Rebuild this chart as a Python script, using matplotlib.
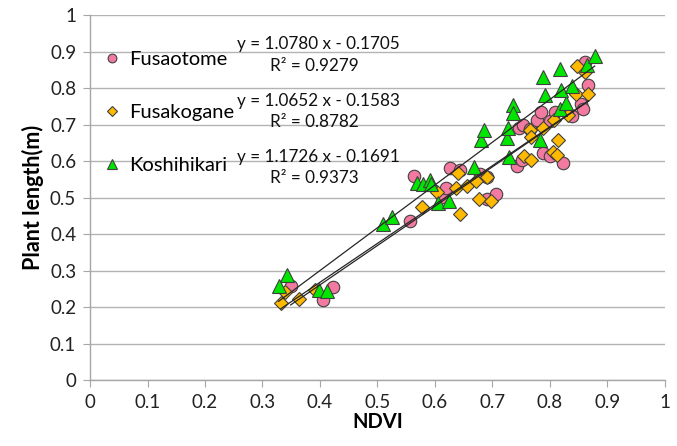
import matplotlib
matplotlib.use("Agg")
import matplotlib.pyplot as plt
import numpy as np

plt.rcParams['font.family'] = ['Lato', 'DejaVu Sans']

# ---- data ----
fusaotome_x = [0.349, 0.423, 0.405, 0.557, 0.563, 0.613, 0.619, 0.626, 0.643, 0.678,
               0.691, 0.691, 0.706, 0.742, 0.751, 0.747, 0.754, 0.765, 0.777, 0.785,
               0.788, 0.800, 0.822, 0.800, 0.809, 0.839, 0.855, 0.858, 0.867, 0.861]
fusaotome_y = [0.258, 0.256, 0.219, 0.437, 0.559, 0.502, 0.525, 0.580, 0.575, 0.564,
               0.557, 0.495, 0.511, 0.586, 0.603, 0.692, 0.699, 0.687, 0.712, 0.735,
               0.623, 0.614, 0.595, 0.710, 0.735, 0.723, 0.756, 0.742, 0.808, 0.872]

fusakogane_x = [0.339, 0.332, 0.364, 0.391, 0.577, 0.603, 0.637, 0.643, 0.641, 0.655,
                0.672, 0.676, 0.697, 0.691, 0.755, 0.768, 0.805, 0.812, 0.765, 0.768,
                0.788, 0.807, 0.815, 0.828, 0.832, 0.845, 0.867, 0.861, 0.848]
fusakogane_y = [0.242, 0.212, 0.221, 0.247, 0.473, 0.516, 0.527, 0.455, 0.568, 0.531,
                0.545, 0.495, 0.491, 0.557, 0.614, 0.604, 0.626, 0.616, 0.685, 0.667,
                0.692, 0.712, 0.659, 0.735, 0.726, 0.785, 0.784, 0.845, 0.861]

koshihikari_x = [0.342, 0.328, 0.399, 0.412, 0.510, 0.525, 0.569, 0.579, 0.591, 0.594,
                 0.606, 0.625, 0.668, 0.681, 0.685, 0.725, 0.727, 0.729, 0.736, 0.736,
                 0.783, 0.788, 0.791, 0.817, 0.828, 0.818, 0.820, 0.839, 0.864, 0.878]
koshihikari_y = [0.288, 0.258, 0.248, 0.245, 0.427, 0.447, 0.541, 0.536, 0.548, 0.537,
                 0.484, 0.491, 0.584, 0.659, 0.685, 0.662, 0.690, 0.612, 0.753, 0.732,
                 0.658, 0.831, 0.781, 0.742, 0.760, 0.853, 0.795, 0.805, 0.863, 0.888]

series_names = ['Fusaotome', 'Fusakogane', 'Koshihikari']
slopes = [1.0780, 1.0652, 1.1726]
intercepts = [-0.1705, -0.1583, -0.1691]
r2_values = [0.9279, 0.8782, 0.9373]

x_ticks = [0, 0.1, 0.2, 0.3, 0.4, 0.5, 0.6, 0.7, 0.8, 0.9, 1]
y_ticks = [0, 0.1, 0.2, 0.3, 0.4, 0.5, 0.6, 0.7, 0.8, 0.9, 1]

# ---- style ----
colors = ['#f27aa0', '#ffb900', '#00e600']
markers = ['o', 'D', '^']
msizes = [9, 6.8, 9.5]
eq_pos = [(0.397, 0.921, 0.39, 0.860), (0.397, 0.764, 0.39, 0.707), (0.397, 0.611, 0.39, 0.553)]

fig = plt.figure(figsize=(6.77, 4.46), dpi=100)
ax = fig.add_axes([0.133, 0.148, 0.849, 0.818])

xs = [fusaotome_x, fusakogane_x, koshihikari_x]
ys = [fusaotome_y, fusakogane_y, koshihikari_y]

for i in range(3):
    ax.plot(xs[i], ys[i], linestyle='none', marker=markers[i], ms=msizes[i],
            mfc=colors[i], mec='#404040', mew=0.8, label=series_names[i], zorder=3)

for i in range(3):
    xl = np.array([min(xs[i]), max(xs[i])])
    ax.plot(xl, slopes[i] * xl + intercepts[i], color='#262626', lw=0.9, zorder=4)

for i in range(3):
    ex, ey, rx, ry = eq_pos[i]
    sign = '-' if intercepts[i] < 0 else '+'
    ax.text(ex, ey, f'y = {slopes[i]:.4f} x {sign} {abs(intercepts[i]):.4f}',
            ha='center', va='center', fontsize=12.3, color='#111111', zorder=5)
    ax.text(rx, ry, f'R² = {r2_values[i]:.4f}', ha='center', va='center',
            fontsize=12.3, color='#111111', zorder=5)

ax.set_xlim(0, 1)
ax.set_ylim(0, 1)
ax.set_xticks(x_ticks)
ax.set_yticks(y_ticks)
ax.set_xticklabels([f'{v:g}' for v in x_ticks])
ax.set_yticklabels([f'{v:g}' for v in y_ticks])
ax.tick_params(axis='both', labelsize=13.5, colors='#222222', length=5, width=0.8,
               direction='out', pad=5)
ax.tick_params(axis='both', color='#a6a6a6')
ax.yaxis.grid(True, color='#b3b3b3', lw=1.0)
ax.set_axisbelow(True)
for s in ['top', 'right']:
    ax.spines[s].set_visible(False)
for s in ['left', 'bottom']:
    ax.spines[s].set_color('#a6a6a6')
    ax.spines[s].set_linewidth(1.0)

ax.set_xlabel('NDVI', fontsize=14.5, fontweight='bold', labelpad=1)
ax.set_ylabel('Plant length(m)', fontsize=15.5, fontweight='bold', labelpad=4)

leg = ax.legend(loc='upper left', bbox_to_anchor=(0.02, 0.902), frameon=False,
                fontsize=14.5, markerscale=0.7, handlelength=1.0, handletextpad=0.35,
                labelspacing=1.78, borderpad=0, borderaxespad=0)

fig.savefig('out.png', dpi=100)
